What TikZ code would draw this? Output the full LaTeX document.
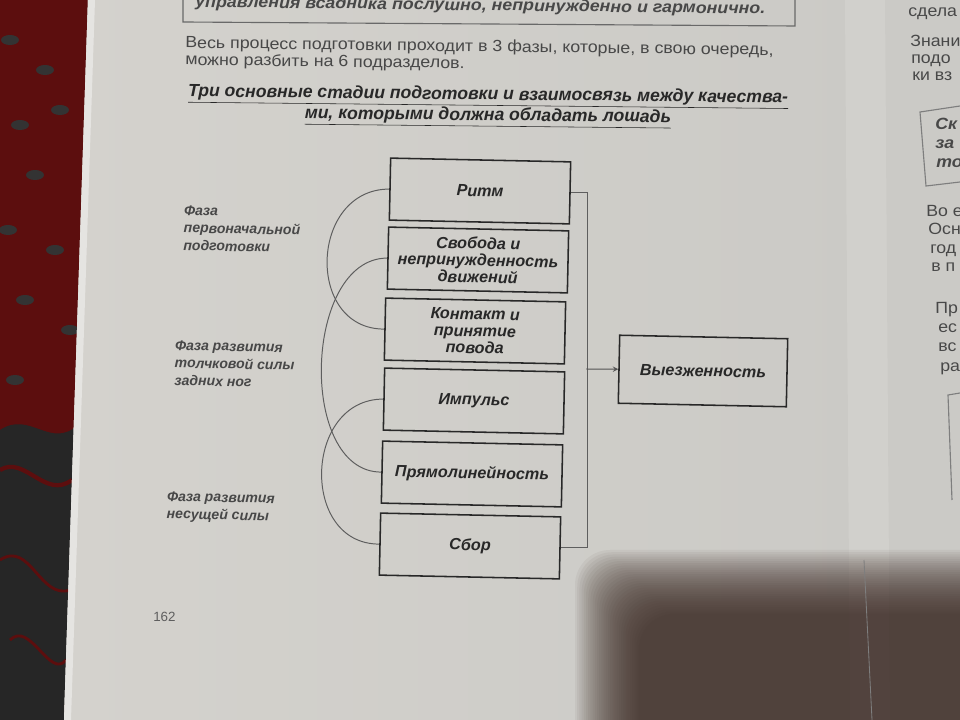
\documentclass[tikz,border=0pt]{standalone}
\usepackage{fontspec}
\setmainfont{Liberation Sans}
\newfontfamily\widesans[FakeStretch=1.1]{Liberation Sans}
\usetikzlibrary{arrows, positioning}
\definecolor{paper}{RGB}{203,202,198}
\definecolor{paperlight}{RGB}{212,210,205}
\definecolor{ink}{RGB}{40,40,40}
\definecolor{cloth}{RGB}{92,14,14}
\definecolor{shadow}{RGB}{62,44,38}

\begin{document}
\begin{tikzpicture}[
    x=0.025cm, y=-0.025cm,
    quality/.style={rectangle, draw=ink, line width=1.1pt, minimum width=4.5cm, minimum height=1.55cm, align=center, text=ink, font=\fontsize{11.5}{12}\selectfont\bfseries\itshape, rotate=-1.2},
    phase/.style={anchor=north west, align=left, inner sep=0pt, text=ink!85, font=\fontsize{10}{12.5}\selectfont\bfseries\itshape, rotate=-1.2},
    bodytext/.style={anchor=base west, inner sep=0pt, text=ink!85, font=\widesans\fontsize{11.5}{13}\selectfont, rotate=-0.7},
    boldtext/.style={bodytext, font=\widesans\fontsize{11.5}{13}\selectfont\bfseries\itshape},
    link/.style={draw=ink!75, line width=0.7pt},
    arrow/.style={->, >=stealth, draw=ink!80, line width=0.7pt}
]
    \clip (0,0) rectangle (960,720);

    % background: cloth, page, gutter, shadow
    \fill[cloth] (0,0) rectangle (960,720);
    \fill[black!85] (0,430) .. controls (30,410) and (50,450) .. (78,425) -- (64,720) -- (0,720) -- cycle;
    \draw[cloth, line width=3pt] (0,470) .. controls (25,455) and (45,500) .. (72,480);
    \draw[cloth, line width=2pt] (0,560) .. controls (30,540) and (40,600) .. (70,590);
    \draw[cloth, line width=2pt] (10,640) .. controls (30,620) and (50,680) .. (66,660);
    \foreach \px/\py in {10/40, 45/70, 20/125, 60/110, 35/175, 8/230, 55/250, 25/300, 70/330, 15/380} {
        \fill[black!80] (\px,\py) ellipse (9 and 5);
    }
    \fill[paper] (88,0) -- (960,0) -- (960,720) -- (64,720) -- cycle;
    \shade[left color=paperlight, right color=paper] (88,0) -- (866,0) -- (872,720) -- (64,720) -- cycle;
    \fill[paperlight!60!white] (88,0) -- (95,0) -- (71,720) -- (64,720) -- cycle;
    \fill[white, opacity=0.12] (845,0) -- (885,0) -- (890,720) -- (850,720) -- cycle;
    \foreach \k in {0,...,29} {
        \fill[shadow, opacity=0.055, rounded corners=25] (575+2.2*\k,550+2.2*\k) rectangle (1010,770);
    }
    \draw[ink!60, line width=0.6pt] (864,560) -- (872,720);

    % text above the diagram
    \draw[ink!70, line width=0.8pt] (183,-5) -- (183,22) -- (795,26) -- (795,-5);
    \node[boldtext] (prev) at (195,7) {управления всадника послушно, непринужденно и гармонично.};
    \node[bodytext] (intro1) at (185,48) {Весь процесс подготовки проходит в 3 фазы, которые, в свою очередь,};
    \node[bodytext] (intro2) at (185,65) {можно разбить на 6 подразделов.};
    \node[align=center, inner sep=0pt, text=ink, font=\fontsize{12.5}{13.5}\selectfont\bfseries\itshape, rotate=-0.6] (title) at (488,107)
        {\underline{Три основные стадии подготовки и взаимосвязь между качества-}\\\underline{ми, которыми должна обладать лошадь}};

    % qualities
    \node[quality] (q1) at (480,191) {Ритм};
    \node[quality] (q2) at (478,260) {Свобода и\\непринужденность\\движений};
    \node[quality] (q3) at (475,331) {Контакт и\\принятие\\повода};
    \node[quality] (q4) at (474,401) {Импульс};
    \node[quality] (q5) at (472,474) {Прямолинейность};
    \node[quality] (q6) at (470,546) {Сбор};
    \node[quality, minimum width=4.2cm, minimum height=1.7cm] (res) at (703,371) {Выезженность};

    % phases
    \node[phase] (ph1) at (184,205) {Фаза\\первоначальной\\подготовки};
    \node[phase] (ph2) at (175,340) {Фаза развития\\толчковой силы\\задних ног};
    \node[phase] (ph3) at (167,491) {Фаза развития\\несущей силы};

    % links between the phases
    \draw[link] (q1.west) to[out=180, in=180, looseness=1.45] (q3.west);
    \draw[link] (q2.west) to[out=180, in=180, looseness=1.0] (q5.west);
    \draw[link] (q4.west) to[out=180, in=180, looseness=1.4] (q6.west);

    % bracket and result
    \draw[link] (q1.east) -- ++(17,0) |- (q6.east);
    \coordinate (fork) at (586,369);
    \draw[arrow] (fork) -- (res.west);

    % page number
    \node[anchor=base west, inner sep=0pt, text=ink!75, font=\fontsize{9.5}{11}\selectfont] (page) at (153,621) {162};

    % right page
    \node[bodytext, rotate=1.2] (r1) at (908,17) {сдела};
    \node[bodytext, rotate=1.2] (r2) at (910,47) {Знани};
    \node[bodytext, rotate=1.2] (r3) at (911,64) {подо};
    \node[bodytext, rotate=1.2] (r4) at (912,81) {ки вз};
    \draw[ink!60, line width=0.8pt] (960,106) -- (920,112) -- (926,186) -- (960,182);
    \node[boldtext, rotate=1.2] (r5) at (935,130) {Ск};
    \node[boldtext, rotate=1.2] (r6) at (935,149) {за};
    \node[boldtext, rotate=1.2] (r7) at (936,168) {то};
    \node[bodytext, rotate=1.2] (r8) at (926,217) {Во е};
    \node[bodytext, rotate=1.2] (r9) at (928,235) {Осн};
    \node[bodytext, rotate=1.2] (r10) at (930,254) {год};
    \node[bodytext, rotate=1.2] (r11) at (931,272) {в п};
    \node[bodytext, rotate=1.2] (r12) at (935,314) {Пр};
    \node[bodytext, rotate=1.2] (r13) at (938,333) {ес};
    \node[bodytext, rotate=1.2] (r14) at (938,352) {вс};
    \node[bodytext, rotate=1.2] (r15) at (940,372) {ра};
    \draw[ink!60, line width=0.8pt] (960,393) -- (948,395) -- (952,500);
\end{tikzpicture}
\end{document}
